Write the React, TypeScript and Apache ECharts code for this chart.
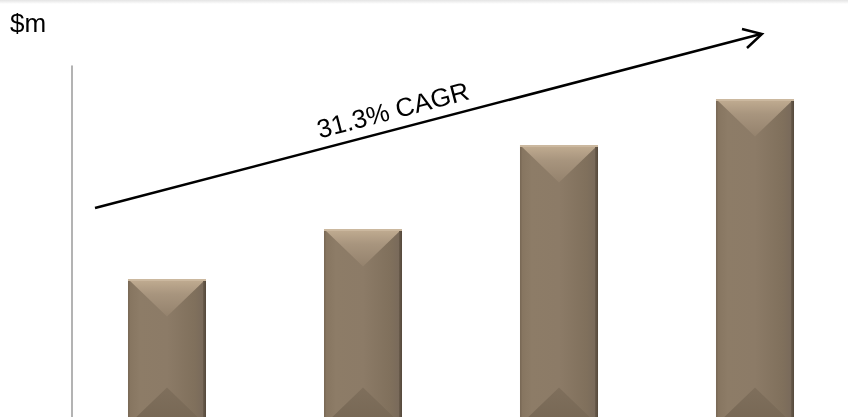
import React, { useEffect, useRef } from "react";
import * as echarts from "echarts";

const categories = ["Y1", "Y2", "Y3", "Y4"];
const values = [146, 196, 280, 326];
const yMax = 359;
const unitLabel = "$m";
const cagrLabel = "31.3% CAGR";

export default function App() {
  const ref = useRef<HTMLDivElement>(null);
  useEffect(() => {
    if (!ref.current) return;
    const chart = echarts.init(ref.current, null, { renderer: "svg" });
    const renderItem = (params: any, api: any) => {
      const idx = api.value(0);
      const val = api.value(1);
      const top = api.coord([idx, val]);
      const base = api.coord([idx, 0]);
      const w = api.size([1, 0])[0] * 0.398;
      const x = top[0] - w / 2;
      const y = top[1];
      const h = base[1] - top[1];
      const d = w * 0.48;
      const cx = top[0];
      return {
        type: "group",
        children: [
          {
            type: "rect",
            shape: { x, y, width: w, height: h },
            style: {
              fill: new echarts.graphic.LinearGradient(0, 0, 1, 0, [
                { offset: 0, color: "#85745f" },
                { offset: 0.15, color: "#8d7c67" },
                { offset: 0.5, color: "#8c7b67" },
                { offset: 0.85, color: "#80705c" },
                { offset: 1, color: "#77685a" },
              ]),
            },
          },
          {
            type: "polygon",
            shape: { points: [[x, y], [x + w, y], [cx, y + d]] },
            style: {
              fill: new echarts.graphic.LinearGradient(0, 0, 0, 1, [
                { offset: 0, color: "#c2ad92" },
                { offset: 0.4, color: "#a8957e" },
                { offset: 1, color: "#94826d" },
              ]),
            },
          },
          {
            type: "polygon",
            shape: { points: [[x, y + h], [x + w, y + h], [cx, y + h - d]] },
            style: {
              fill: new echarts.graphic.LinearGradient(0, 0, 0, 1, [
                { offset: 0, color: "#7f6f5c" },
                { offset: 1, color: "#766754" },
              ]),
            },
          },
          {
            type: "rect",
            shape: { x: x + w - 3, y, width: 3, height: h },
            style: {
              fill: new echarts.graphic.LinearGradient(0, 0, 1, 0, [
                { offset: 0, color: "#6a5c4c" },
                { offset: 1, color: "#54483b" },
              ]),
            },
          },
          {
            type: "rect",
            shape: { x, y, width: 1.5, height: h },
            style: { fill: "#7a6a57" },
          },
          {
            type: "rect",
            shape: { x, y, width: w, height: 2 },
            style: { fill: "#cbb89f" },
          },
        ],
      };
    };
    chart.setOption({
      animation: false,
      grid: { left: 69, width: 784, top: 66, height: 359, outerBoundsMode: "none" },
      xAxis: {
        type: "category",
        data: categories,
        show: false,
      },
      yAxis: {
        type: "value",
        min: 0,
        max: yMax,
        offset: -3,
        axisLine: { show: true, lineStyle: { color: "#9a9a9a", width: 1.5 } },
        axisTick: { show: false },
        axisLabel: { show: false },
        splitLine: { show: false },
      },
      series: [
        {
          type: "custom",
          renderItem,
          data: values.map((v, i) => [i, v]),
        },
      ],
      graphic: [
        {
          type: "rect",
          left: 0,
          top: 0,
          shape: { width: 860, height: 4 },
          style: {
            fill: new echarts.graphic.LinearGradient(0, 0, 0, 1, [
              { offset: 0, color: "#e4e4e4" },
              { offset: 1, color: "#ffffff" },
            ]),
          },
          silent: true,
        },
        {
          type: "text",
          x: 10,
          y: 23,
          style: {
            text: unitLabel,
            fontSize: 26,
            fontFamily: "Liberation Sans",
            fill: "#000",
            verticalAlign: "middle",
          },
        },
        {
          type: "line",
          shape: { x1: 95, y1: 208, x2: 761, y2: 34 },
          style: { stroke: "#000", lineWidth: 2.5 },
        },
        {
          type: "polyline",
          shape: { points: [[742, 29], [762, 34], [747, 48]] },
          style: { stroke: "#000", lineWidth: 2.5, fill: "none" },
        },
        {
          type: "text",
          x: 393,
          y: 110,
          rotation: 0.2566,
          style: {
            text: cagrLabel,
            fontSize: 26,
            fontFamily: "Liberation Sans",
            fill: "#000",
            align: "center",
            verticalAlign: "middle",
          },
        },
      ],
    });
    return () => chart.dispose();
  }, []);
  return <div ref={ref} style={{ width: 860, height: 430, position: "fixed", left: 0, top: 0 }} />;
}
